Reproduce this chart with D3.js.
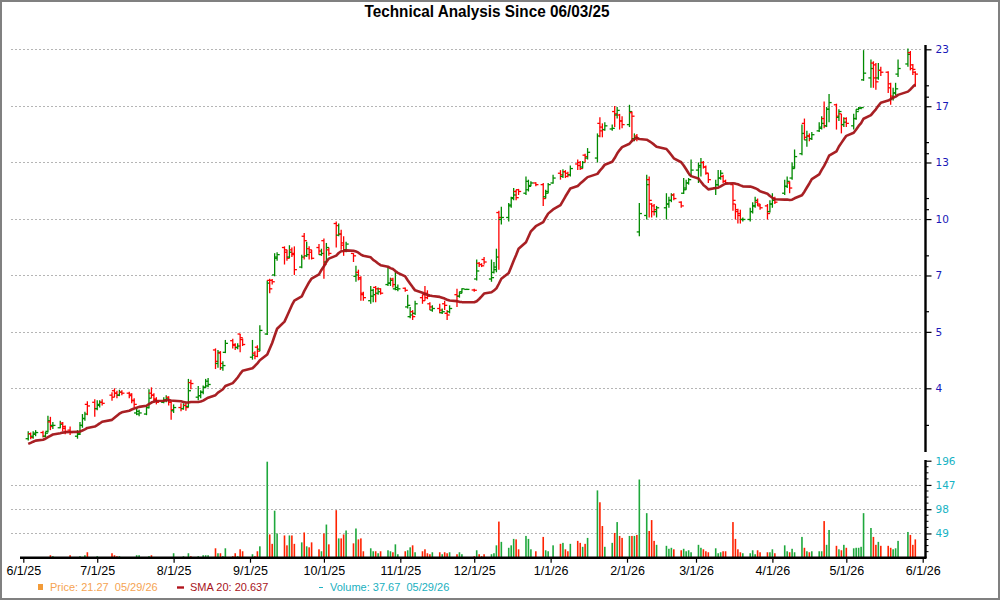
<!DOCTYPE html>
<html>
<head>
<meta charset="utf-8">
<script src="https://cdn.jsdelivr.net/npm/d3@7"></script>
<style>
  body { margin: 0; background: #fff; }
  svg text { font-family: "Liberation Sans", Arial, sans-serif; }
</style>
</head>
<body>
<div id="chart"></div>
<script>
// ---- data ----
var startDay = "2025-06-03", endDay = "2026-05-29";
var holidays = ["2025-06-19", "2025-07-04", "2025-09-01", "2025-11-27", "2025-12-25",
                "2026-01-01", "2026-01-19", "2026-02-16", "2026-04-03", "2026-05-25"];

// closes before the first shown day, only used to seed the 20 day average
var priorCloses = [2.78, 2.80, 2.85, 2.82, 2.86, 2.88, 2.84, 2.87, 2.90, 3.05,
                   3.08, 3.10, 3.12, 3.15, 3.10, 3.14, 3.16, 3.12, 3.18];

var open = [
  3.08,3.16,3.12,3.15,3.18,3.12,3.20,3.36,3.30,3.26,3.34,3.28,3.22,3.12,3.16,3.30,3.42,3.68,3.72,
  3.60,3.66,3.72,3.86,3.95,3.90,3.86,3.92,3.90,3.88,3.76,3.52,3.50,3.50,3.62,3.90,3.86,3.78,3.72,3.76,3.82,3.72,
  3.56,3.62,3.60,3.66,3.64,4.12,3.82,3.85,3.92,4.02,4.05,4.88,4.55,4.80,4.45,4.82,5.12,5.02,4.94,5.30,5.15,
  4.70,4.80,4.95,4.90,5.30,7.00,7.00,7.20,7.85,8.30,8.10,7.90,8.20,8.00,7.50,8.80,7.95,8.25,8.10,8.30,8.00,
  8.60,7.70,8.20,9.40,8.85,8.90,8.50,8.20,8.05,7.15,7.30,7.10,6.55,6.30,6.45,6.75,6.55,6.70,6.85,6.90,7.05,6.70,6.68,
  6.72,6.10,5.80,5.95,5.90,6.40,6.50,6.55,6.20,6.00,6.05,5.92,6.20,5.90,5.95,6.50,6.45,6.60,6.68,
  6.66,7.05,7.65,7.60,7.80,7.05,7.30,7.40,9.95,9.60,9.70,10.35,10.75,11.10,11.20,11.00,11.20,11.45,11.60,11.50,10.80,11.10,
  11.60,12.20,12.00,12.30,12.20,12.10,12.80,12.90,12.60,13.40,13.20,13.20,15.80,15.50,15.30,15.35,16.80,16.50,16.50,16.00,
  15.70,16.70,14.60,14.80,9.00,9.80,11.80,10.40,10.30,10.00,10.20,10.40,10.60,10.90,10.50,11.00,11.30,11.60,12.10,
  12.40,12.60,12.90,12.60,12.20,11.30,11.50,11.90,12.00,11.70,11.50,10.40,10.10,9.90,9.60,9.60,10.00,10.30,10.50,10.30,10.30,10.00,
  10.40,10.70,11.00,11.40,11.60,11.90,12.60,13.50,15.80,14.50,14.80,14.60,15.20,15.50,16.20,15.60,17.00,17.40,16.30,16.60,15.70,
  16.20,15.60,16.20,17.00,17.10,19.80,20.00,21.60,21.40,20.00,20.80,20.60,19.00,18.00,18.50,20.40,21.50,22.80,21.40,20.60
];
var high = [
  3.20,3.18,3.20,3.22,3.21,3.19,3.47,3.45,3.36,3.38,3.36,3.30,3.28,3.22,3.36,3.50,3.54,3.74,3.78,
  3.76,3.76,3.78,3.92,4.00,3.95,3.97,3.96,3.93,3.90,3.80,3.62,3.58,3.66,3.98,4.02,3.90,3.82,3.82,3.86,3.84,3.74,
  3.68,3.70,3.70,3.70,4.20,4.18,4.05,3.96,4.06,4.20,4.22,4.92,4.88,4.85,4.60,5.14,5.17,5.05,5.05,5.31,5.18,
  5.14,4.85,5.00,5.55,7.00,7.06,7.05,8.06,8.10,8.35,8.20,8.40,8.30,8.35,8.00,8.95,8.55,8.35,8.20,8.45,8.25,
  8.70,8.50,8.30,9.50,9.40,9.10,8.80,8.55,8.06,7.55,7.40,7.15,6.60,6.80,6.70,6.80,6.75,6.72,7.50,7.10,7.10,7.30,6.85,
  6.75,6.50,6.10,6.00,6.30,6.50,6.80,6.65,6.25,6.15,6.20,6.05,6.30,6.00,6.15,6.70,6.60,6.72,6.70,
  6.70,7.80,7.70,7.65,7.90,7.80,7.70,8.25,10.05,10.25,10.45,10.80,11.30,11.20,11.25,12.00,11.80,11.70,11.65,11.60,11.20,11.60,
  12.10,12.40,12.45,12.40,12.30,12.70,13.10,13.00,13.00,13.50,13.90,15.00,16.30,15.80,15.90,15.70,17.30,17.20,16.60,16.40,
  17.40,16.80,15.00,14.95,10.45,12.10,12.00,10.45,10.40,10.30,11.00,10.80,11.00,11.00,10.55,11.90,11.80,11.90,13.10,
  12.90,13.20,13.00,12.70,12.20,11.80,12.40,12.40,12.10,11.80,11.50,10.40,10.15,10.10,9.70,10.20,10.50,10.80,10.70,10.40,10.40,10.60,
  11.00,10.80,11.80,12.00,11.70,12.90,13.80,15.70,16.20,15.20,15.00,15.10,15.90,16.40,17.70,17.20,18.40,17.50,17.00,16.60,16.30,
  16.30,16.60,17.00,17.20,17.20,23.10,22.00,21.80,21.60,21.60,21.20,20.70,19.50,19.00,19.50,22.00,23.30,23.00,21.50,20.70
];
var low = [
  3.05,3.07,3.08,3.12,3.10,3.10,3.18,3.22,3.24,3.25,3.20,3.15,3.14,3.08,3.14,3.26,3.38,3.48,3.45,
  3.57,3.62,3.66,3.75,3.82,3.80,3.84,3.86,3.80,3.70,3.62,3.48,3.46,3.48,3.60,3.80,3.74,3.68,3.70,3.72,3.66,3.40,
  3.52,3.55,3.58,3.56,3.62,3.98,3.76,3.80,3.88,4.00,4.02,4.42,4.45,4.40,4.38,4.80,4.92,4.88,4.90,4.82,4.98,
  4.64,4.65,4.70,4.85,5.27,6.55,6.85,7.15,7.75,7.60,7.75,7.85,7.90,7.20,7.45,7.80,7.90,7.80,7.80,8.00,7.95,
  7.06,7.65,7.95,8.30,8.80,8.20,7.95,8.10,7.70,6.95,7.00,6.30,6.30,6.20,6.25,6.25,6.50,6.50,6.80,6.80,6.75,6.65,6.62,
  6.60,6.05,5.75,5.70,5.85,6.20,6.30,6.35,6.00,5.95,5.90,5.88,6.00,5.70,5.90,6.10,6.40,6.55,6.66,
  6.60,7.00,7.50,7.50,7.60,6.95,7.25,7.30,7.40,9.35,9.50,10.20,10.60,10.60,10.90,10.90,11.10,11.40,11.40,10.30,10.70,11.00,
  11.55,11.80,11.90,11.90,11.95,12.00,12.40,12.40,12.50,12.90,13.10,12.90,14.70,14.70,15.20,15.20,15.50,16.20,15.30,15.40,
  15.50,14.40,14.40,14.40,8.80,9.60,9.70,9.70,9.80,9.70,9.60,10.20,10.50,10.60,10.20,10.95,11.20,11.50,12.00,
  11.60,12.00,12.50,12.10,11.60,10.90,11.40,11.80,11.60,11.50,10.05,9.60,9.40,9.40,9.50,9.50,9.90,10.20,10.30,10.10,9.60,9.95,
  10.20,10.40,10.90,11.30,11.00,11.80,12.50,13.40,14.50,14.00,14.40,14.50,15.10,15.30,15.40,15.50,15.90,15.30,16.00,15.00,15.50,
  15.50,15.30,16.10,16.90,17.00,19.70,19.00,19.00,18.80,19.80,20.20,18.50,17.40,17.80,18.30,20.10,21.20,20.80,20.30,19.10
];
var close = [
  3.16,3.10,3.17,3.18,3.12,3.17,3.38,3.28,3.30,3.32,3.25,3.20,3.18,3.15,3.30,3.42,3.50,3.65,3.60,
  3.68,3.72,3.70,3.82,3.90,3.86,3.92,3.90,3.85,3.75,3.68,3.55,3.52,3.62,3.80,3.86,3.78,3.72,3.76,3.80,3.72,3.58,
  3.62,3.60,3.66,3.62,3.95,4.10,3.85,3.92,4.02,4.15,4.08,4.60,4.82,4.55,4.50,5.05,5.00,4.95,4.98,5.20,5.02,
  4.75,4.72,4.85,5.40,6.90,6.70,6.95,7.90,8.00,8.20,7.85,8.10,8.05,7.40,7.90,8.60,8.00,8.20,7.85,8.15,8.05,
  7.60,8.30,8.05,9.30,8.90,8.40,8.20,8.45,7.95,7.20,7.05,6.50,6.40,6.65,6.50,6.70,6.60,6.55,6.90,7.00,6.85,6.75,6.70,
  6.65,6.15,5.85,5.80,6.20,6.30,6.40,6.45,6.10,6.05,6.00,5.95,6.15,5.85,6.05,6.45,6.55,6.70,6.68,
  6.65,7.35,7.60,7.55,7.70,7.10,7.50,7.90,9.70,9.70,10.30,10.70,10.90,10.75,11.10,11.70,11.40,11.60,11.50,10.70,11.00,11.50,
  11.90,12.10,12.30,12.00,12.10,12.50,12.70,12.50,12.90,13.30,13.60,14.80,15.20,15.30,15.60,15.40,16.60,16.90,16.00,15.70,
  16.80,16.40,14.70,14.60,9.90,11.50,10.60,10.00,10.10,10.20,10.40,10.60,10.90,10.70,10.30,11.20,11.60,11.80,12.40,
  12.70,12.90,12.60,12.20,11.80,11.50,11.90,12.20,11.70,11.60,10.60,10.00,9.80,9.60,9.60,10.00,10.30,10.60,10.40,10.20,9.90,10.40,
  10.60,10.50,11.40,11.70,11.30,12.50,13.30,15.00,14.70,14.80,14.60,14.90,15.40,15.80,15.60,17.00,17.60,16.40,16.80,15.70,15.90,
  15.80,16.20,16.80,17.10,17.15,20.50,21.00,20.00,19.60,20.80,20.60,19.40,18.20,18.50,18.90,21.00,22.60,21.00,20.90,20.40
];
var volume = [
  1,1,1,1,1,1,1,5,3,1,1,1,5,1,3,1,5,11,1,
  3,1,1,9,5,3,3,1,1,1,1,5,5,1,3,5,1,1,1,1,1,1,
  9,1,3,1,9,3,3,1,5,5,5,19,9,9,3,19,3,9,3,17,13,
  7,3,13,23,194,47,28,95,49,45,25,45,45,28,31,51,23,21,31,17,13,
  49,67,27,96,39,39,47,55,29,59,37,39,13,19,13,13,9,13,15,13,11,27,7,
  13,15,21,25,11,13,17,9,7,11,11,7,11,9,11,7,11,7,1,
  3,15,7,3,7,7,9,25,73,32,20,25,38,37,17,44,38,17,13,42,15,13,
  25,28,30,17,13,28,34,30,22,28,40,136,112,64,22,30,50,72,44,40,
  44,44,44,46,158,90,54,76,34,26,24,18,20,17,15,18,13,15,11,
  26,20,17,13,11,19,9,11,13,13,72,38,17,11,9,9,15,7,15,11,11,11,
  17,9,25,13,11,18,11,42,20,13,11,13,13,13,74,26,56,24,17,15,26,
  20,19,20,20,22,90,60,42,26,32,24,24,20,17,19,34,52,46,26,37
];

// axis ticks (price axis is log, labels are rounded)
var priceTicks = [4, 5.36, 7.18, 9.62, 12.9, 17.27, 23.2];
var priceTickLabels = ["4", "5", "7", "10", "13", "17", "23"];
var priceMinorTicks = [3.3, 5.95, 7.95, 10.1, 10.7, 13.5, 14.3, 18.1, 19.2];
var volTicks = [49, 98, 147, 196];
var volTickLabels = ["49", "98", "147", "196"];
var smaPeriod = 20;

// ---- setup ----
var width = 1000, height = 600;
var parseDay = d3.utcParse("%Y-%m-%d"), fmtDay = d3.utcFormat("%Y-%m-%d");

var days = d3.utcDay.range(parseDay(startDay), d3.utcDay.offset(parseDay(endDay), 1))
    .filter(function (d) {
        var w = d.getUTCDay();
        return w > 0 && w < 6 && holidays.indexOf(fmtDay(d)) < 0;
    });

var n = Math.min(days.length, close.length);
var data = [];
for (var i = 0; i < n; i++) {
    data.push({date: days[i], o: open[i], h: high[i], l: low[i], c: close[i], v: volume[i]});
}

// 20 day simple moving average
var allCloses = priorCloses.concat(close.slice(0, n));
data.forEach(function (d, i) {
    var k = i + priorCloses.length;
    var win = allCloses.slice(Math.max(0, k - smaPeriod + 1), k + 1);
    d.sma = d3.mean(win);
});

var svg = d3.select("#chart").append("svg")
    .attr("width", width)
    .attr("height", height);

svg.append("rect")
    .attr("x", 0).attr("y", 0)
    .attr("width", width).attr("height", height)
    .attr("fill", "#fff");

var x = d3.scaleUtc()
    .domain([parseDay("2025-06-01"), parseDay("2026-06-01")])
    .range([23.3, 922.7]);

var y = d3.scaleLog()
    .domain([4, 23.2])
    .range([388.3, 49.3]);

var yVol = d3.scaleLinear()
    .domain([0, 196])
    .range([557.7, 460.7]);

var axisX = 925.5;

// grid lines
svg.append("g").selectAll("line")
    .data(priceTicks).enter().append("line")
    .attr("x1", 11).attr("x2", axisX - 3)
    .attr("y1", function (d) { return Math.round(y(d)) + 0.5; })
    .attr("y2", function (d) { return Math.round(y(d)) + 0.5; })
    .style("stroke", "#b5b5b5")
    .style("stroke-dasharray", "2,2");

svg.append("g").selectAll("line")
    .data(volTicks.slice(0, 3)).enter().append("line")
    .attr("x1", 11).attr("x2", axisX - 3)
    .attr("y1", function (d) { return Math.round(yVol(d)) + 0.5; })
    .attr("y2", function (d) { return Math.round(yVol(d)) + 0.5; })
    .style("stroke", "#b5b5b5")
    .style("stroke-dasharray", "2,2");

// volume bars
svg.append("g").selectAll("rect")
    .data(data).enter().append("rect")
    .attr("x", function (d) { return x(d.date) - 0.8; })
    .attr("y", function (d) { return yVol(d.v); })
    .attr("width", 1.6)
    .attr("height", function (d) { return yVol(0) - yVol(d.v); })
    .style("fill", function (d) { return d.c >= d.o ? "#1ea83c" : "#ff2200"; });

// price bars (high-low with open / close ticks)
var bars = svg.append("g")
    .selectAll("g")
    .data(data).enter().append("g")
    .style("stroke", function (d) { return d.c >= d.o ? "#008a00" : "#ff0000"; })
    .style("stroke-width", 1.3);

bars.append("line")
    .attr("x1", function (d) { return x(d.date); })
    .attr("x2", function (d) { return x(d.date); })
    .attr("y1", function (d) { return y(d.h); })
    .attr("y2", function (d) { return y(d.l); });
bars.append("line")
    .attr("x1", function (d) { return x(d.date) - 2.6; })
    .attr("x2", function (d) { return x(d.date); })
    .attr("y1", function (d) { return y(d.o); })
    .attr("y2", function (d) { return y(d.o); });
bars.append("line")
    .attr("x1", function (d) { return x(d.date); })
    .attr("x2", function (d) { return x(d.date) + 2.6; })
    .attr("y1", function (d) { return y(d.c); })
    .attr("y2", function (d) { return y(d.c); });

// SMA 20
svg.append("path")
    .datum(data)
    .attr("d", d3.line()
        .x(function (d) { return x(d.date); })
        .y(function (d) { return y(d.sma); }))
    .style("fill", "none")
    .style("stroke", "#a31418")
    .style("stroke-width", 2.6)
    .style("stroke-linejoin", "round")
    .style("opacity", 0.95);

// right price axis
var gY = svg.append("g")
    .attr("transform", "translate(" + axisX + ",0)")
    .call(d3.axisRight(y)
        .tickValues(priceTicks)
        .tickSize(6)
        .tickPadding(4)
        .tickFormat(function (d, i) { return priceTickLabels[i]; }));
gY.select(".domain").remove();
gY.selectAll(".tick line").style("stroke", "#000").style("stroke-width", 1.2);
gY.selectAll("text")
    .style("font-family", "'DejaVu Sans', Verdana, sans-serif")
    .style("font-size", "10.5px")
    .style("fill", "#1818b8");

svg.append("g").selectAll("line")
    .data(priceMinorTicks).enter().append("line")
    .attr("x1", axisX).attr("x2", axisX + 3.5)
    .attr("y1", function (d) { return y(d); })
    .attr("y2", function (d) { return y(d); })
    .style("stroke", "#000").style("stroke-width", 1.2);

svg.append("line")
    .attr("x1", axisX).attr("x2", axisX)
    .attr("y1", 45).attr("y2", 452)
    .style("stroke", "#000").style("stroke-width", 2.4);

// right volume axis
var gV = svg.append("g")
    .attr("transform", "translate(" + axisX + ",0)")
    .call(d3.axisRight(yVol)
        .tickValues(volTicks)
        .tickSize(6)
        .tickPadding(4)
        .tickFormat(function (d, i) { return volTickLabels[i]; }));
gV.select(".domain").remove();
gV.selectAll(".tick line").style("stroke", "#000").style("stroke-width", 1.2);
gV.selectAll("text")
    .style("font-family", "'DejaVu Sans', Verdana, sans-serif")
    .style("font-size", "10.5px")
    .style("fill", "#17b3c4");

svg.append("g").selectAll("line")
    .data(d3.range(12.25, 196, 12.25).filter(function (v) { return v % 49 !== 0; }))
    .enter().append("line")
    .attr("x1", axisX).attr("x2", axisX + 3)
    .attr("y1", function (d) { return yVol(d); })
    .attr("y2", function (d) { return yVol(d); })
    .style("stroke", "#000").style("stroke-width", 1);

svg.append("line")
    .attr("x1", axisX).attr("x2", axisX)
    .attr("y1", 460).attr("y2", 558)
    .style("stroke", "#000").style("stroke-width", 2.4);

// bottom date axis
var gX = svg.append("g")
    .attr("transform", "translate(0," + yVol(0) + ")")
    .call(d3.axisBottom(x)
        .tickValues(d3.utcMonth.range(parseDay("2025-06-01"), parseDay("2026-06-02")))
        .tickSize(5)
        .tickPadding(3)
        .tickFormat(d3.utcFormat("%-m/%-d/%y")));
gX.select(".domain").remove();
gX.selectAll(".tick line").style("stroke", "#000").style("stroke-width", 1.2);
gX.selectAll("text")
    .style("font-family", "'Liberation Sans', Arial, sans-serif")
    .style("font-size", "12.5px")
    .style("fill", "#000");

svg.append("line")
    .attr("x1", 20).attr("x2", axisX + 1)
    .attr("y1", yVol(0)).attr("y2", yVol(0))
    .style("stroke", "#000").style("stroke-width", 2.6);

// title
svg.append("text")
    .attr("x", 487)
    .attr("y", 17)
    .attr("text-anchor", "middle")
    .attr("textLength", 245)
    .attr("lengthAdjust", "spacingAndGlyphs")
    .style("font-size", "16px")
    .style("font-weight", "bold")
    .style("fill", "#000")
    .text("Technical Analysis Since 06/03/25");

// legend
var legend = svg.append("g").style("font-size", "11px");
legend.append("rect")
    .attr("x", 38).attr("y", 584).attr("width", 5).attr("height", 6)
    .style("fill", "#f29b38");
legend.append("text").attr("x", 50).attr("y", 591)
    .attr("xml:space", "preserve")
    .style("fill", "#f5a352").text("Price: 21.27  05/29/26");
legend.append("line")
    .attr("x1", 177).attr("x2", 184).attr("y1", 587.5).attr("y2", 587.5)
    .style("stroke", "#b0141c").style("stroke-width", 2.4);
legend.append("text").attr("x", 190).attr("y", 591)
    .style("fill", "#a8141c").text("SMA 20: 20.637");
legend.append("line")
    .attr("x1", 319).attr("x2", 323).attr("y1", 587.5).attr("y2", 587.5)
    .style("stroke", "#20b4c4").style("stroke-width", 1);
legend.append("text").attr("x", 330).attr("y", 591)
    .attr("xml:space", "preserve")
    .style("fill", "#20b0c0").text("Volume: 37.67  05/29/26");

// outer frame
svg.append("rect")
    .attr("x", 1).attr("y", 1)
    .attr("width", width - 2).attr("height", height - 2)
    .style("fill", "none")
    .style("stroke", "#808080")
    .style("stroke-width", 2);
</script>
</body>
</html>
